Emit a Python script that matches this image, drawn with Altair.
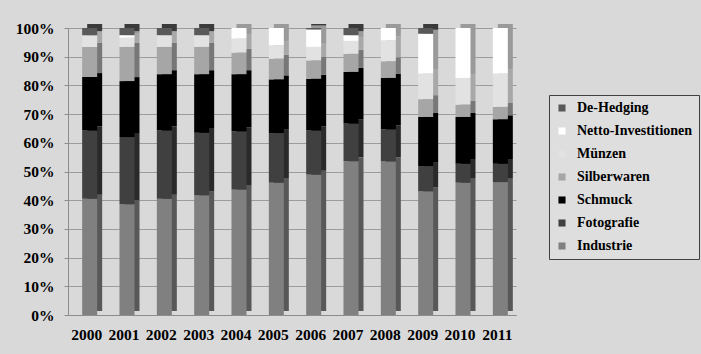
import altair as alt
import pandas as pd

years = ["2000", "2001", "2002", "2003", "2004", "2005", "2006", "2007", "2008", "2009", "2010", "2011"]

series = ["De-Hedging", "Netto-Investitionen", "Münzen", "Silberwaren", "Schmuck", "Fotografie", "Industrie"]

industrie = [40.5, 38.6, 40.5, 41.7, 43.7, 46.1, 48.9, 53.6, 53.5, 43.1, 46.1, 46.3]
fotografie = [23.8, 23.4, 23.8, 21.8, 20.3, 17.3, 15.4, 13.1, 11.2, 8.8, 6.6, 6.4]
schmuck = [18.6, 19.5, 19.6, 20.4, 19.9, 18.7, 18.0, 18.0, 17.9, 17.1, 16.3, 15.5]
silberwaren = [10.5, 11.9, 9.5, 9.5, 7.5, 7.2, 6.4, 6.3, 5.8, 6.2, 4.3, 4.3]
muenzen = [4.1, 3.2, 4.1, 4.1, 4.9, 4.7, 4.7, 4.5, 7.3, 8.9, 9.3, 11.6]
netto = [0.0, 0.9, 0.0, 0.0, 3.7, 6.0, 6.1, 2.0, 4.3, 13.9, 17.4, 15.9]
dehedging = [2.5, 2.5, 2.5, 2.5, 0.0, 0.0, 0.5, 2.5, 0.0, 2.0, 0.0, 0.0]

front_colors = ["#595959", "#ffffff", "#e2e2e2", "#a6a6a6", "#000000", "#404040", "#808080"]
side_colors = ["#3a3a3a", "#9a9a9a", "#a8a8a8", "#777777", "#000000", "#2a2a2a", "#585858"]

values_by_series = {
    "Industrie": industrie,
    "Fotografie": fotografie,
    "Schmuck": schmuck,
    "Silberwaren": silberwaren,
    "Münzen": muenzen,
    "Netto-Investitionen": netto,
    "De-Hedging": dehedging,
}
stack_order = ["Industrie", "Fotografie", "Schmuck", "Silberwaren", "Münzen", "Netto-Investitionen", "De-Hedging"]

rows = []
for s in stack_order:
    for y, v in zip(years, values_by_series[s]):
        rows.append({"Jahr": y, "Serie": s, "Wert": v, "ord": stack_order.index(s)})
df = pd.DataFrame(rows)

FONT = "Liberation Serif"

base = alt.Chart(df).encode(
    x=alt.X(
        "Jahr:O",
        sort=years,
        title=None,
        scale=alt.Scale(paddingInner=0, paddingOuter=0),
        axis=alt.Axis(
            labelAngle=0,
            labelFont=FONT,
            labelFontWeight="bold",
            labelFontSize=15.5,
            labelColor="#000000",
            labelPadding=12,
            ticks=False,
            domainColor="#8c8c8c",
            grid=False,
        ),
    ),
    y=alt.Y(
        "Wert:Q",
        stack="normalize",
        title=None,
        scale=alt.Scale(domain=[0, 1], nice=False),
        axis=alt.Axis(
            values=[i / 10 for i in range(11)],
            format=".0%",
            labelFont=FONT,
            labelFontWeight="bold",
            labelFontSize=15.5,
            labelColor="#000000",
            labelPadding=10,
            tickSize=4,
            tickColor="#8c8c8c",
            domainColor="#8c8c8c",
            gridColor="#9c9c9c",
            gridWidth=1,
        ),
    ),
    order=alt.Order("ord:Q", sort="ascending"),
)

side = base.mark_bar(size=15, xOffset=8, yOffset=-4).encode(
    color=alt.Color(
        "Serie:N",
        scale=alt.Scale(domain=series, range=side_colors),
        legend=None,
    )
)

front = base.mark_bar(size=15, xOffset=3).encode(
    color=alt.Color(
        "Serie:N",
        scale=alt.Scale(domain=series, range=front_colors),
        legend=alt.Legend(
            title=None,
            orient="none",
            legendX=481,
            legendY=67,
            fillColor="#dedede",
            strokeColor="#404040",
            padding=6,
            labelFont=FONT,
            labelFontWeight="bold",
            labelFontSize=14,
            labelColor="#000000",
            labelOffset=8,
            symbolType="square",
            symbolSize=50,
            symbolStrokeWidth=0,
            rowPadding=9,
        ),
    )
)

chart = (
    alt.layer(side, front)
    .resolve_scale(color="independent")
    .properties(
        width=448,
        height=287,
        autosize=alt.AutoSizeParams(type="none"),
        padding={"left": 68, "top": 28, "right": 185, "bottom": 39},
        background="#d9d9d9",
    )
    .configure_view(stroke=None)
)

chart.save("out.html", embed_options={"renderer": "svg", "actions": False})
